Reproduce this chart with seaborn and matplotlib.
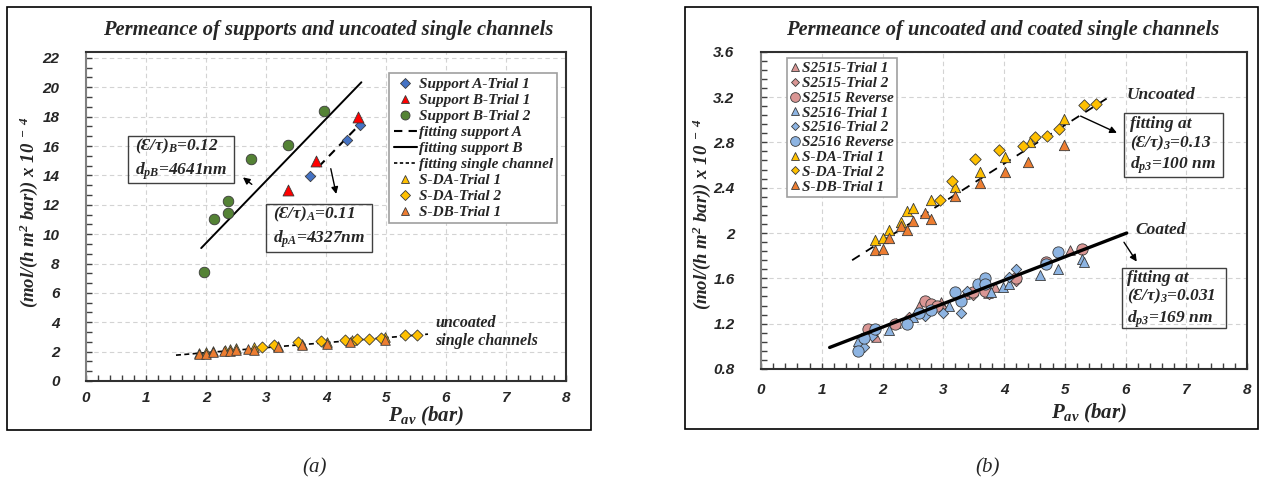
import matplotlib
matplotlib.use("Agg")
import matplotlib.pyplot as plt
import seaborn as sns
from matplotlib.lines import Line2D
from matplotlib.patches import Rectangle
from matplotlib.ticker import MultipleLocator
from matplotlib.font_manager import FontProperties

# ---------------- panel (a): supports ----------------
sup_a_x = [3.74, 4.35, 4.56]
sup_a_y = [13.95, 16.4, 17.4]
sup_b1_x = [3.36, 3.83, 4.53]
sup_b1_y = [13.0, 15.0, 18.0]
sup_b2_x = [1.96, 2.13, 2.36, 2.36, 2.75, 3.36, 3.96]
sup_b2_y = [7.43, 11.05, 12.27, 11.41, 15.09, 16.05, 18.41]

fit_a_x = [3.88, 4.57]
fit_a_y = [14.6, 17.5]
fit_b_x = [1.92, 4.59]
fit_b_y = [9.05, 20.34]

# ---------------- uncoated single channels (both panels) ----------------
sda1_x = [1.88, 2.0, 2.11, 2.31, 2.40, 2.50, 2.80, 3.20, 3.60, 4.01, 4.43, 4.99]
sda1_y = [1.94, 1.96, 2.03, 2.10, 2.19, 2.22, 2.29, 2.41, 2.54, 2.67, 2.80, 3.01]
sda2_x = [2.94, 3.14, 3.53, 3.91, 4.31, 4.51, 4.71, 4.91, 5.31, 5.51]
sda2_y = [2.29, 2.46, 2.65, 2.73, 2.77, 2.85, 2.86, 2.92, 3.13, 3.14]
sdb1_x = [1.88, 2.0, 2.11, 2.30, 2.40, 2.50, 2.70, 2.80, 3.20, 3.60, 4.01, 4.40, 4.99]
sdb1_y = [1.85, 1.86, 1.96, 2.06, 2.03, 2.11, 2.18, 2.12, 2.33, 2.44, 2.54, 2.63, 2.78]

fit_sc_x = [1.5, 5.7]
fit_sc_y = [1.76, 3.19]

# ---------------- panel (b): coated single channels ----------------
s15t1_x = [1.90, 2.23, 2.60, 2.96, 3.36, 3.73, 3.86, 5.09]
s15t1_y = [1.08, 1.21, 1.36, 1.39, 1.46, 1.47, 1.52, 1.85]
s15t2_x = [1.83, 2.43, 2.96, 3.49, 3.76, 4.19]
s15t2_y = [1.11, 1.26, 1.35, 1.45, 1.46, 1.58]
s15rv_x = [1.76, 2.20, 2.70, 2.80, 2.90, 3.49, 3.69, 4.19, 4.69, 5.29]
s15rv_y = [1.15, 1.20, 1.40, 1.37, 1.36, 1.48, 1.49, 1.60, 1.74, 1.86]
s16t1_x = [1.60, 2.10, 2.50, 3.09, 3.79, 3.99, 4.09, 4.59, 4.89, 5.29, 5.32]
s16t1_y = [1.05, 1.14, 1.26, 1.36, 1.48, 1.52, 1.55, 1.63, 1.68, 1.77, 1.74]
s16t2_x = [1.70, 1.83, 2.70, 3.00, 3.29, 3.39, 4.09, 4.19]
s16t2_y = [0.99, 1.09, 1.27, 1.29, 1.29, 1.49, 1.61, 1.68]
s16rv_x = [1.60, 1.70, 1.88, 2.40, 2.60, 2.80, 3.20, 3.29, 3.57, 3.69, 3.69, 4.69, 4.89]
s16rv_y = [0.96, 1.07, 1.15, 1.20, 1.29, 1.32, 1.48, 1.40, 1.55, 1.60, 1.55, 1.73, 1.83]

fit_coat_x = [1.13, 6.02]
fit_coat_y = [0.99, 2.0]

left_yticks = [0, 2, 4, 6, 8, 10, 12, 14, 16, 18, 20, 22]
right_yticks = [0.8, 1.2, 1.6, 2.0, 2.4, 2.8, 3.2, 3.6]
right_ylabels = ["0.8", "1.2", "1.6", "2", "2.4", "2.8", "3.2", "3.6"]
xticks = [0, 1, 2, 3, 4, 5, 6, 7, 8]

BLUE = "#4472C4"
RED = "#FF0000"
GREEN = "#548235"
YELLOW = "#FFC000"
ORANGE = "#ED7D31"
PINK = "#DA9694"
LBLUE = "#8DB4E2"
EDGE = "#3A3A3A"

sns.set_style("white")
plt.rcParams['font.family'] = ['Liberation Serif', 'DejaVu Serif']
plt.rcParams['mathtext.fontset'] = 'custom'
plt.rcParams['mathtext.rm'] = 'Liberation Serif:bold:italic'
plt.rcParams['mathtext.it'] = 'Liberation Serif:bold:italic'
plt.rcParams['mathtext.bf'] = 'Liberation Serif:bold:italic'

serif_bi = dict(family=['Liberation Serif', 'DejaVu Serif'], weight='bold', style='italic')
tick_font = dict(family='Liberation Sans', weight='bold', style='italic', size=11)
leg_font = FontProperties(family='Liberation Serif', weight='bold', style='italic', size=11)

fig = plt.figure(figsize=(12.65, 4.95), dpi=100)
W, H = 1265, 495

# outer frames
fig.patches.append(Rectangle((7 / W, (H - 430) / H), 584 / W, 423 / H, transform=fig.transFigure,
                             fill=False, ec='black', lw=1.2))
fig.patches.append(Rectangle((685 / W, (H - 429) / H), 573 / W, 422 / H, transform=fig.transFigure,
                             fill=False, ec='black', lw=1.2))

axL = fig.add_axes([86 / W, (H - 381) / H, 480 / W, 329 / H])
axR = fig.add_axes([761 / W, (H - 369) / H, 486 / W, 317.3 / H])


def style_axes(ax, ylim, yticks, ylabels, yminor, xpad):
    ax.set_xlim(0, 8)
    ax.set_ylim(*ylim)
    ax.set_xticks(xticks)
    ax.set_xticklabels([str(t) for t in xticks], fontdict=tick_font)
    ax.set_yticks(yticks)
    ax.set_yticklabels(ylabels, fontdict=tick_font)
    ax.xaxis.set_minor_locator(MultipleLocator(0.2))
    ax.yaxis.set_minor_locator(MultipleLocator(yminor))
    ax.tick_params(which='both', direction='in', length=4, width=1, color='#404040',
                   bottom=True, left=True, top=False, right=False)
    ax.tick_params(axis='y', pad=19)
    ax.tick_params(axis='x', pad=xpad)
    ax.grid(True, which='major', linestyle=(0, (4, 3)), color='#D3D3D3', lw=0.8)
    ax.set_axisbelow(True)
    for side, sp in ax.spines.items():
        sp.set_visible(True)
        sp.set_linewidth(1.5)
        sp.set_color('#808080' if side == 'left' else '#303030')
    ax.set_xlabel("")
    ax.set_ylabel("")


def pts(ax, x, y, marker, color, s, z=3):
    sns.scatterplot(x=x, y=y, ax=ax, marker=marker, color=color, s=s,
                    edgecolor=EDGE, linewidth=0.6, zorder=z)


# ---------------- panel (a) ----------------
sns.lineplot(x=fit_b_x, y=fit_b_y, ax=axL, color='black', lw=1.4, zorder=2)
sns.lineplot(x=fit_a_x, y=fit_a_y, ax=axL, color='black', lw=1.5, linestyle=(0, (4, 3)), zorder=2)
sns.lineplot(x=fit_sc_x, y=fit_sc_y, ax=axL, color='black', lw=1.2, linestyle=(0, (3, 2)), zorder=2)
pts(axL, sup_b2_x, sup_b2_y, 'o', GREEN, 58)
pts(axL, sup_a_x, sup_a_y, 'D', BLUE, 28)
pts(axL, sup_b1_x, sup_b1_y, '^', RED, 62)
pts(axL, sda1_x, sda1_y, '^', YELLOW, 48)
pts(axL, sda2_x, sda2_y, 'D', YELLOW, 32)
pts(axL, sdb1_x, sdb1_y, '^', ORANGE, 48)
style_axes(axL, (0, 22.4), left_yticks, [str(t) for t in left_yticks], 2 / 3, 7)

# annotation boxes (a)
axL.add_patch(Rectangle((0.705, 13.5), 1.762, 3.18, fill=False, ec='#404040', lw=1.0, zorder=4))
axL.text(0.82, 15.1, "(Ɛ/τ)$_B$=0.12\n$d_{pB}$=4641nm", ha='left', va='center',
         fontsize=12.5, linespacing=1.3, zorder=5, **serif_bi)
axL.annotate("", xy=(2.58, 13.98), xytext=(2.80, 13.27),
             arrowprops=dict(arrowstyle='-|>', color='black', lw=1.0, mutation_scale=10))
axL.add_patch(Rectangle((2.995, 8.8), 1.767, 3.25, fill=False, ec='#404040', lw=1.0, zorder=4))
axL.text(3.11, 10.45, "(Ɛ/τ)$_A$=0.11\n$d_{pA}$=4327nm", ha='left', va='center',
         fontsize=12.5, linespacing=1.3, zorder=5, **serif_bi)
axL.annotate("", xy=(4.18, 12.55), xytext=(4.07, 14.64),
             arrowprops=dict(arrowstyle='-|>', color='black', lw=1.0, mutation_scale=10))
axL.text(5.82, 3.35, "uncoated\nsingle channels", ha='left', va='center',
         fontsize=11.5, linespacing=1.15, **serif_bi)

legL = [
    Line2D([], [], marker='D', ls='None', mfc=BLUE, mec=EDGE, mew=0.6, ms=5, label='Support A-Trial 1'),
    Line2D([], [], marker='^', ls='None', mfc=RED, mec=EDGE, mew=0.6, ms=6, label='Support B-Trial 1'),
    Line2D([], [], marker='o', ls='None', mfc=GREEN, mec=EDGE, mew=0.6, ms=6.5, label='Support B-Trial 2'),
    Line2D([], [], color='black', lw=1.5, ls=(0, (4, 3)), label='fitting support A'),
    Line2D([], [], color='black', lw=1.5, label='fitting support B'),
    Line2D([], [], color='black', lw=1.2, ls=(0, (2, 1.5)), label='fitting single channel'),
    Line2D([], [], marker='^', ls='None', mfc=YELLOW, mec=EDGE, mew=0.6, ms=5.5, label='S-DA-Trial 1'),
    Line2D([], [], marker='D', ls='None', mfc=YELLOW, mec=EDGE, mew=0.6, ms=5, label='S-DA-Trial 2'),
    Line2D([], [], marker='^', ls='None', mfc=ORANGE, mec=EDGE, mew=0.6, ms=5.5, label='S-DB-Trial 1'),
]
lg = axL.legend(handles=legL, loc='upper left', bbox_to_anchor=(0.632, 0.937), borderaxespad=0,
                prop=leg_font, frameon=True, fancybox=False, edgecolor='#A0A0A0', framealpha=1,
                handlelength=1.5, handletextpad=0.12, labelspacing=0.15, borderpad=0.3)
lg.get_frame().set_linewidth(1.2)

axL.text(0.504, 1.068, "Permeance of supports and uncoated single channels", transform=axL.transAxes,
         ha='center', va='center', fontsize=14.8, **serif_bi)
axL.text(0.708, -0.108, "$P_{av}$ (bar)", transform=axL.transAxes, ha='center', va='center',
         fontsize=15, **serif_bi)
axL.text(-0.12, 0.514, "(mol/(h m$^2$ bar)) x 10$^{\\ -\\ 4}$", transform=axL.transAxes, rotation=90,
         ha='center', va='center', fontsize=13.5, **serif_bi)

# ---------------- panel (b) ----------------
sns.lineplot(x=fit_sc_x, y=fit_sc_y, ax=axR, color='black', lw=1.3, linestyle=(0, (5, 4)), zorder=2)
pts(axR, sda1_x, sda1_y, '^', YELLOW, 55)
pts(axR, sda2_x, sda2_y, 'D', YELLOW, 34)
pts(axR, sdb1_x, sdb1_y, '^', ORANGE, 55)
pts(axR, s15t1_x, s15t1_y, '^', PINK, 48)
pts(axR, s15t2_x, s15t2_y, 'D', PINK, 28)
pts(axR, s15rv_x, s15rv_y, 'o', PINK, 66)
pts(axR, s16t1_x, s16t1_y, '^', LBLUE, 52)
pts(axR, s16t2_x, s16t2_y, 'D', LBLUE, 28)
pts(axR, s16rv_x, s16rv_y, 'o', LBLUE, 66)
sns.lineplot(x=fit_coat_x, y=fit_coat_y, ax=axR, color='black', lw=2.4, zorder=6)
style_axes(axR, (0.8, 3.6), right_yticks, right_ylabels, 0.08, 10)

axR.text(6.02, 3.218, "Uncoated", ha='left', va='center', fontsize=12.5, **serif_bi)
axR.add_patch(Rectangle((5.98, 2.497), 1.63, 0.56, fill=False, ec='#404040', lw=1.0, zorder=4))
axR.text(6.07, 2.765, "fitting at\n(Ɛ/τ)$_3$=0.13\n$d_{p3}$=100 nm", ha='left', va='center',
         fontsize=12.5, linespacing=1.12, zorder=5, **serif_bi)
axR.annotate("", xy=(5.90, 2.874), xytext=(5.22, 3.042),
             arrowprops=dict(arrowstyle='-|>', color='black', lw=1.0, mutation_scale=10))
axR.text(6.168, 2.027, "Coated", ha='left', va='center', fontsize=12.5, **serif_bi)
axR.add_patch(Rectangle((5.937, 1.159), 1.717, 0.53, fill=False, ec='#404040', lw=1.0, zorder=4))
axR.text(6.03, 1.412, "fitting at\n(Ɛ/τ)$_3$=0.031\n$d_{p3}$=169 nm", ha='left', va='center',
         fontsize=12.5, linespacing=1.12, zorder=5, **serif_bi)
axR.annotate("", xy=(6.21, 1.727), xytext=(5.95, 1.939),
             arrowprops=dict(arrowstyle='-|>', color='black', lw=1.0, mutation_scale=10))

legR = [
    Line2D([], [], marker='^', ls='None', mfc=PINK, mec=EDGE, mew=0.6, ms=6, label='S2515-Trial 1'),
    Line2D([], [], marker='D', ls='None', mfc=PINK, mec=EDGE, mew=0.6, ms=4.5, label='S2515-Trial 2'),
    Line2D([], [], marker='o', ls='None', mfc=PINK, mec=EDGE, mew=0.6, ms=7, label='S2515 Reverse'),
    Line2D([], [], marker='^', ls='None', mfc=LBLUE, mec=EDGE, mew=0.6, ms=6, label='S2516-Trial 1'),
    Line2D([], [], marker='D', ls='None', mfc=LBLUE, mec=EDGE, mew=0.6, ms=4.5, label='S2516-Trial 2'),
    Line2D([], [], marker='o', ls='None', mfc=LBLUE, mec=EDGE, mew=0.6, ms=7, label='S2516 Reverse'),
    Line2D([], [], marker='^', ls='None', mfc=YELLOW, mec=EDGE, mew=0.6, ms=6, label='S-DA-Trial 1'),
    Line2D([], [], marker='D', ls='None', mfc=YELLOW, mec=EDGE, mew=0.6, ms=4.5, label='S-DA-Trial 2'),
    Line2D([], [], marker='^', ls='None', mfc=ORANGE, mec=EDGE, mew=0.6, ms=6, label='S-DB-Trial 1'),
]
lg2 = axR.legend(handles=legR, loc='upper left', bbox_to_anchor=(0.053, 0.979), borderaxespad=0,
                 prop=leg_font, frameon=True, fancybox=False, edgecolor='#A0A0A0', framealpha=1,
                 handlelength=0.7, handletextpad=0.1, labelspacing=0.07, borderpad=0.22)
lg2.get_frame().set_linewidth(1.2)

axR.text(0.498, 1.068, "Permeance of uncoated and coated single channels", transform=axR.transAxes,
         ha='center', va='center', fontsize=14.8, **serif_bi)
axR.text(0.675, -0.14, "$P_{av}$ (bar)", transform=axR.transAxes, ha='center', va='center',
         fontsize=15, **serif_bi)
axR.text(-0.122, 0.487, "(mol/(h m$^2$ bar)) x 10$^{\\ -\\ 4}$", transform=axR.transAxes, rotation=90,
         ha='center', va='center', fontsize=13.5, **serif_bi)

fig.text(315 / W, (H - 468) / H, "(a)", ha='center', va='center', fontsize=15,
         family='Liberation Serif', style='italic')
fig.text(988 / W, (H - 468) / H, "(b)", ha='center', va='center', fontsize=15,
         family='Liberation Serif', style='italic')

fig.savefig("out.png", dpi=100)
